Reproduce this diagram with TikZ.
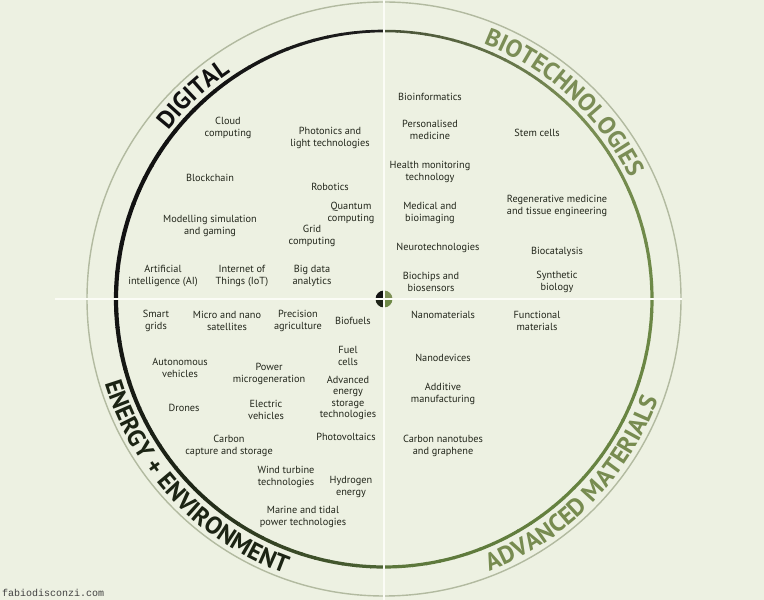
\documentclass[tikz,border=0pt]{standalone}
\usepackage{fontspec}
\setmainfont{PT Sans}
\newfontfamily\wmfont{Liberation Mono}
\usetikzlibrary{decorations.text}
\definecolor{bgc}{HTML}{EDF1E2}
\definecolor{labc}{HTML}{22261B}
\definecolor{ringc}{HTML}{B2BAA0}
\definecolor{linec}{HTML}{FBFCF6}
\definecolor{arcK}{HTML}{121212}
\definecolor{arcKtop}{HTML}{1E1E1E}
\definecolor{arcBLm}{HTML}{1F2717}
\definecolor{arcBLb}{HTML}{4E6634}
\definecolor{arcBRb}{HTML}{5B763B}
\definecolor{arcBRm}{HTML}{66823F}
\definecolor{arcR}{HTML}{6C8846}
\definecolor{arcTRm}{HTML}{7A8E55}
\definecolor{arcTRt}{HTML}{464F36}
\definecolor{digc}{HTML}{111111}
\definecolor{bioc}{HTML}{7B8D56}
\definecolor{matc}{HTML}{778B50}
\definecolor{envc}{HTML}{1C2414}
\definecolor{emTR}{HTML}{7D9057}
\definecolor{emBR}{HTML}{6E8947}
\definecolor{emBL}{HTML}{1E2418}
\newcommand\dlabfont{\fontsize{10.3}{11.3}\selectfont}
\newcommand\capfont{\fontsize{24.5}{24.5}\selectfont\bfseries}
\begin{document}
\begin{tikzpicture}[x=1pt,y=1pt,
  lab/.style={font=\dlabfont, align=center, text=labc, inner sep=0pt},
  divline/.style={draw=linec, line width=2.2pt}]
\useasboundingbox (0,0) rectangle (764,600);
\fill[bgc] (0,0) rectangle (764,600);
\coordinate (C) at (384,301);
% outer ring
\draw[ringc, line width=1.4pt] (C) circle[radius=297pt];
% inner arc with colour gradient
\foreach \qa/\qb/\qca/\qcb/\qwa/\qwb in {
  90/135/arcKtop/arcK/2.6/4.0,
  135/180/arcK/arcK/4.0/4.2,
  180/225/arcK/arcBLm/4.2/3.8,
  225/270/arcBLm/arcBLb/3.8/3.2,
  270/315/arcBRb/arcBRm/3.2/3.2,
  315/360/arcBRm/arcR/3.2/3.2,
  0/45/arcR/arcTRm/3.2/3.0,
  45/90/arcTRm/arcTRt/3.0/2.5}{
  \foreach \i in {0,...,14}{
    \pgfmathsetmacro\segA{\qa+(\qb-\qa)*\i/15}
    \pgfmathsetmacro\segB{\qa+(\qb-\qa)*(\i+1)/15+0.25}
    \pgfmathtruncatemacro\segT{100*(\i+0.5)/15}
    \pgfmathsetmacro\segW{\qwa+(\qwb-\qwa)*(\i+0.5)/15}
    \draw[line width=\segW pt, color=\qcb!\segT!\qca] (C) ++(\segA:268pt) arc[start angle=\segA, end angle=\segB, radius=268pt];
  }
}
% centre emblem
\fill[arcK] (C) -- ++(90:8.5pt) arc[start angle=90, end angle=180, radius=8.5pt] -- cycle;
\fill[emTR] (C) -- ++(0:8.5pt) arc[start angle=0, end angle=90, radius=8.5pt] -- cycle;
\fill[emBL] (C) -- ++(180:8.5pt) arc[start angle=180, end angle=270, radius=8.5pt] -- cycle;
\fill[emBR] (C) -- ++(270:8.5pt) arc[start angle=270, end angle=360, radius=8.5pt] -- cycle;
% dividing lines
\coordinate (hl) at (55,301);
\coordinate (hr) at (682,301);
\coordinate (vt) at (384,600);
\coordinate (vb) at (384,0);
\draw[divline] (hl) -- (hr);
\draw[divline] (vt) -- (vb);
% curved titles
\path[decorate, decoration={text along path, text align=center,
  text={|\capfont\color{digc}|DIGITAL}}]
  (C) ++(163:274pt) arc[start angle=163, end angle=103, radius=274pt];
\path[decorate, decoration={text along path, text align=center,
  text={|\capfont\color{bioc}|BIOTECHNOLOGIES}}]
  (C) ++(95:274pt) arc[start angle=95, end angle=0, radius=274pt];
\path[decorate, decoration={text along path, text align=center,
  text={|\capfont\color{matc}|ADVANCED MATERIALS}}]
  (C) ++(-94.5:292pt) arc[start angle=-94.5, end angle=5.5, radius=292pt];
\path[decorate, decoration={text along path, text align=center,
  text={|\capfont\color{envc}|ENERGY + ENVIRONMENT}}]
  (C) ++(173.5:292pt) arc[start angle=173.5, end angle=273.5, radius=292pt];
% Digital
\node[lab] (cloud) at (228,472) {Cloud\\computing};
\node[lab] (photonics) at (330,462) {Photonics and\\light technologies};
\node[lab] (blockchain) at (210,422) {Blockchain};
\node[lab] (robotics) at (330,413) {Robotics};
\node[lab] (quantum) at (351,387) {Quantum\\computing};
\node[lab] (modelling) at (210,374) {Modelling simulation\\and gaming};
\node[lab] (grid) at (312,364) {Grid\\computing};
\node[lab] (ai) at (163,324) {Artificial\\intelligence (AI)};
\node[lab] (iot) at (242,324) {Internet of\\Things (IoT)};
\node[lab] (bigdata) at (312,324) {Big data\\analytics};
% Biotechnologies
\node[lab] (bioinf) at (430,503) {Bioinformatics};
\node[lab] (persmed) at (430,470) {Personalised\\medicine};
\node[lab] (stem) at (537,467) {Stem cells};
\node[lab] (health) at (430,428) {Health monitoring\\technology};
\node[lab] (regen) at (557,394) {Regenerative medicine\\and tissue engineering};
\node[lab] (medical) at (430,387) {Medical and\\bioimaging};
\node[lab] (neuro) at (438,352) {Neurotechnologies};
\node[lab] (biocat) at (557,348) {Biocatalysis};
\node[lab] (biochips) at (431,318) {Biochips and\\biosensors};
\node[lab] (synth) at (557,318) {Synthetic\\biology};
% Energy + environment
\node[lab] (smart) at (156,279) {Smart\\grids};
\node[lab] (micro) at (227,279) {Micro and nano\\satellites};
\node[lab] (precision) at (298,279) {Precision\\agriculture};
\node[lab] (biofuels) at (353,279) {Biofuels};
\node[lab] (fuel) at (348,244) {Fuel\\cells};
\node[lab] (autonomous) at (180,232) {Autonomous\\vehicles};
\node[lab] (power) at (269,226) {Power\\microgeneration};
\node[lab] (advstorage) at (348,202) {Advanced\\energy\\storage\\technologies};
\node[lab] (drones) at (184,192) {Drones};
\node[lab] (electric) at (266,190) {Electric\\vehicles};
\node[lab] (pv) at (346,163) {Photovoltaics};
\node[lab] (ccs) at (229,154) {Carbon\\capture and storage};
\node[lab] (wind) at (286,123) {Wind turbine\\technologies};
\node[lab] (hydrogen) at (351,113) {Hydrogen\\energy};
\node[lab] (marine) at (303,83) {Marine and tidal\\power technologies};
% Advanced materials
\node[lab] (nanomat) at (443,285) {Nanomaterials};
\node[lab] (functional) at (537,279) {Functional\\materials};
\node[lab] (nanodev) at (443,242) {Nanodevices};
\node[lab] (additive) at (443,206) {Additive\\manufacturing};
\node[lab] (cnt) at (443,154) {Carbon nanotubes\\and graphene};
% watermark
\node[anchor=base west, inner sep=0pt, font=\wmfont\fontsize{10}{10}\selectfont, text=black!75] (wm) at (2,3) {fabiodisconzi.com};
\end{tikzpicture}
\end{document}
